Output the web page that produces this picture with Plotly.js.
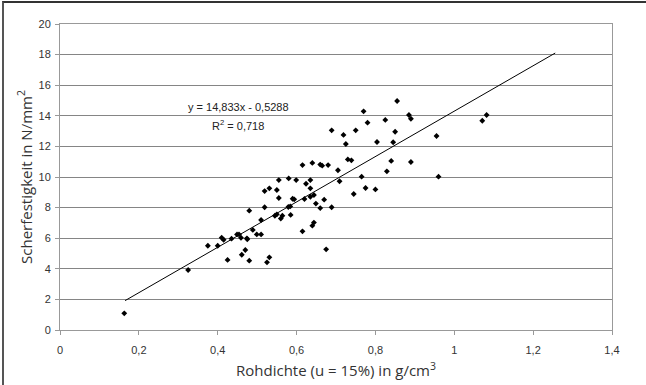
<!DOCTYPE html>
<html>
<head>
<meta charset="utf-8">
<script src="https://cdn.plot.ly/plotly-3.0.1.min.js"></script>
<style>
  html, body { margin: 0; padding: 0; background: #fff; }
  #wrap { position: relative; width: 646px; height: 385px; overflow: hidden; }
  #chart { width: 646px; height: 385px; }
  #frame { position: absolute; left: 2px; top: 1px; width: 700px; height: 400px;
           border-left: 2px solid #555; border-top: 2px solid #333; pointer-events: none; }
</style>
</head>
<body>
<div id="wrap"><div id="chart"></div><div id="frame"></div></div>
<script>
// Rohdichte (g/cm³)
const density = [
  0.163, 0.325, 0.375, 0.400, 0.410, 0.415, 0.425, 0.435, 0.449, 0.454,
  0.459, 0.461, 0.470, 0.474, 0.475, 0.480, 0.480, 0.489, 0.499, 0.510,
  0.510, 0.519, 0.519, 0.525, 0.531, 0.531, 0.545, 0.550, 0.550, 0.555,
  0.555, 0.560, 0.564, 0.580, 0.579, 0.584, 0.585, 0.590, 0.594, 0.599,
  0.615, 0.615, 0.620, 0.624, 0.635, 0.635, 0.635, 0.640, 0.640, 0.644,
  0.644, 0.649, 0.660, 0.660, 0.665, 0.670, 0.675, 0.680, 0.689, 0.689,
  0.705, 0.709, 0.719, 0.725, 0.730, 0.739, 0.745, 0.750, 0.765, 0.770,
  0.775, 0.780, 0.800, 0.804, 0.825, 0.829, 0.840, 0.845, 0.850, 0.855,
  0.885, 0.890, 0.890, 0.955, 0.960, 1.071, 1.082
];
// Scherfestigkeit (N/mm²)
const shear = [
  1.09, 3.92, 5.51, 5.51, 6.03, 5.90, 4.58, 5.97, 6.25, 6.25,
  6.03, 4.92, 5.23, 5.99, 5.93, 7.80, 4.53, 6.54, 6.25, 6.25,
  7.19, 9.08, 8.02, 4.42, 4.75, 9.26, 7.47, 7.56, 9.15, 9.80,
  8.63, 7.28, 7.47, 9.91, 8.04, 8.08, 7.52, 8.58, 8.54, 9.80,
  10.78, 6.45, 8.56, 9.56, 9.80, 9.26, 8.71, 10.92, 6.82, 7.02,
  8.82, 8.26, 7.97, 10.81, 10.74, 8.52, 5.27, 10.78, 13.05, 8.02,
  10.44, 9.72, 12.75, 12.16, 11.15, 11.09, 8.89, 13.05, 10.02, 14.29,
  9.28, 13.55, 9.19, 12.29, 13.73, 10.37, 11.05, 12.27, 12.96, 14.97,
  14.05, 13.81, 10.98, 12.68, 10.02, 13.68, 14.05
];
// Linear trendline y = slope*x + intercept
const trendSlope = 14.833;
const trendIntercept = -0.5288;
const trendX = [0.165, 1.256];
const trendY = trendX.map(x => trendSlope * x + trendIntercept);

const xTickVals = [0, 0.2, 0.4, 0.6, 0.8, 1, 1.2, 1.4];
const xTickText = ['0', '0,2', '0,4', '0,6', '0,8', '1', '1,2', '1,4'];
const yTickVals = [0, 2, 4, 6, 8, 10, 12, 14, 16, 18, 20];
const yTickText = ['0', '2', '4', '6', '8', '10', '12', '14', '16', '18', '20'];

const traces = [
  {
    x: density, y: shear, type: 'scatter', mode: 'markers',
    marker: { symbol: 'diamond', size: 4.5, color: '#000' },
    hoverinfo: 'x+y', showlegend: false
  },
  {
    x: trendX, y: trendY, type: 'scatter', mode: 'lines',
    line: { color: '#000', width: 1 },
    hoverinfo: 'skip', showlegend: false
  }
];

const tickFont = { family: 'Liberation Sans, Arial, sans-serif', size: 11, color: '#333' };
const titleFont = { family: 'Open Sans, sans-serif', size: 15, color: '#333' };

const layout = {
  width: 646, height: 385,
  margin: { l: 60, r: 34, t: 24, b: 55 },
  paper_bgcolor: '#fff', plot_bgcolor: '#fff',
  showlegend: false,
  xaxis: {
    range: [0, 1.4], tickvals: xTickVals, ticktext: xTickText,
    showgrid: false, zeroline: false,
    showline: true, linecolor: '#999', linewidth: 1, mirror: true,
    ticks: 'outside', ticklen: 4, tickcolor: '#999', tickwidth: 1,
    tickfont: tickFont, ticklabelstandoff: 6,
    title: { text: 'Rohdichte (u = 15%) in g/cm<sup>3</sup>', font: titleFont, standoff: 10 }
  },
  yaxis: {
    range: [0, 20], tickvals: yTickVals, ticktext: yTickText,
    showgrid: true, gridcolor: '#858585', gridwidth: 1, zeroline: false,
    showline: true, linecolor: '#999', linewidth: 1, mirror: true,
    ticks: 'outside', ticklen: 4, tickcolor: '#999', tickwidth: 1,
    tickfont: tickFont, ticklabelstandoff: 2,
    title: { text: 'Scherfestigkeit in N/mm<sup>2</sup>', font: titleFont, standoff: 2 }
  },
  annotations: [
    {
      xref: 'paper', yref: 'paper', x: (238 - 60) / 552, y: (330 - 106.7) / 306,
      text: 'y = 14,833x - 0,5288', showarrow: false, xanchor: 'center', yanchor: 'middle',
      font: { family: 'Liberation Sans, Arial, sans-serif', size: 11, color: '#222' }
    },
    {
      xref: 'paper', yref: 'paper', x: (238 - 60) / 552, y: (330 - 124.7) / 306,
      text: 'R<sup>2</sup> = 0,718', showarrow: false, xanchor: 'center', yanchor: 'middle',
      font: { family: 'Liberation Sans, Arial, sans-serif', size: 11, color: '#222' }
    }
  ]
};

Plotly.newPlot('chart', traces, layout, { displayModeBar: false, staticPlot: true });
</script>
</body>
</html>
